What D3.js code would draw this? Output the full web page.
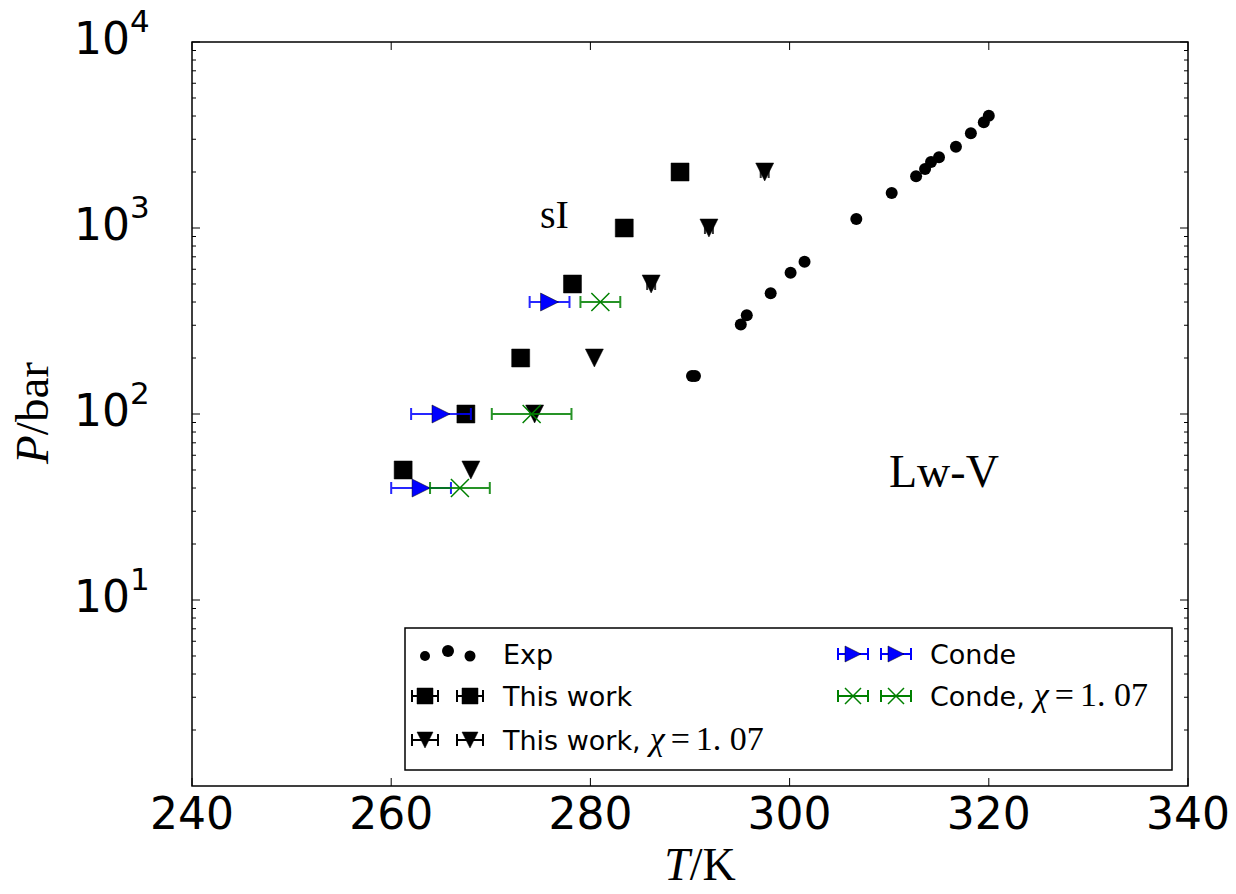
<!DOCTYPE html>
<html>
<head>
<meta charset="utf-8">
<script src="https://cdn.jsdelivr.net/npm/d3@7"></script>
<style>
  html, body { margin: 0; padding: 0; background: #fff; }
  svg { display: block; }
</style>
</head>
<body>
<svg id="chart" width="1236" height="894"></svg>
<script>
// ---------------- data ----------------
const xTicks = [240, 260, 280, 300, 320, 340];
const yTicks = [10, 100, 1000, 10000];
const yTickExp = ["1", "2", "3", "4"];

const expT = [290.2, 290.5, 295.1, 295.7, 298.1, 300.1, 301.5, 306.7, 310.25, 312.7, 313.6, 314.2, 315.0, 316.7, 318.2, 319.5, 320.0];
const expP = [160, 160, 303, 340, 446, 575, 659, 1118, 1542, 1897, 2075, 2264, 2400, 2735, 3228, 3700, 4015];

const workT = [261.2, 267.5, 273.0, 278.2, 283.4, 289.0];
const workP = [50, 100, 200, 500, 1000, 2000];
const workErr = [0.5, 0.5, 0.5, 0.5, 0.5, 0.5];

const workChiT = [268.0, 274.4, 280.4, 286.1, 291.9, 297.5];
const workChiP = [50, 100, 200, 500, 1000, 2000];
const workChiErr = [0, 0, 0, 0.4, 0.4, 0.4];

const condeT = [263.0, 265.0, 275.9];
const condeP = [40, 100, 400];
const condeErr = [3, 3, 2];

const condeChiT = [266.9, 274.1, 281.0];
const condeChiP = [40, 100, 400];
const condeChiErr = [3, 4, 2];

// ---------------- layout ----------------
const L = 192, R = 1188, T = 42, B = 786;
const svg = d3.select("#chart");
const x = d3.scaleLinear().domain([240, 340]).range([L, R]);
const y = d3.scaleLog().domain([1, 10000]).range([B, T]);

const BLUE = "#0000ff", GREEN = "#008000";
const MS = 18;

function markerPath(kind, s) {
  const h = s / 2;
  switch (kind) {
    case "square": return `M${-h},${-h}H${h}V${h}H${-h}Z`;
    case "tridown": return `M${-h},${-h}L${h},${-h}L0,${h}Z`;
    case "triright": return `M${-h},${-h}L${h},0L${-h},${h}Z`;
    case "x": return `M${-h},${-h}L${h},${h}M${-h},${h}L${h},${-h}`;
  }
}

svg.append("clipPath").attr("id", "clip").append("rect")
  .attr("x", L).attr("y", T).attr("width", R - L).attr("height", B - T);
const plot = svg.append("g").attr("clip-path", "url(#clip)");

// ---------------- series ----------------
plot.append("g").selectAll("circle").data(expT.map((t, i) => [t, expP[i]]))
  .join("circle")
  .attr("cx", d => x(d[0])).attr("cy", d => y(d[1])).attr("r", 6)
  .attr("fill", "#000");

function errSeries(Ts, Ps, Es, kind, color, errOpacity) {
  const g = plot.append("g");
  const data = Ts.map((t, i) => ({ t, p: Ps[i], e: Es[i] }));
  const capH = 6;
  data.forEach(d => {
    if (d.e > 0) {
      const x0 = x(d.t - d.e), x1 = x(d.t + d.e), yy = y(d.p);
      g.append("path")
        .attr("d", `M${x0},${yy}H${x1}M${x0},${yy - capH}V${yy + capH}M${x1},${yy - capH}V${yy + capH}`)
        .attr("stroke", color).attr("stroke-width", 2).attr("fill", "none")
        .attr("opacity", errOpacity);
    }
  });
  g.selectAll("path.m").data(data).join("path").attr("class", "m")
    .attr("transform", d => `translate(${x(d.t)},${y(d.p)})`)
    .attr("d", markerPath(kind, MS))
    .attr("fill", kind === "x" ? "none" : color)
    .attr("stroke", kind === "x" ? color : "#000")
    .attr("stroke-width", kind === "x" ? 1.5 : 0.5);
}

errSeries(workT, workP, workErr, "square", "#000", 0.8);
errSeries(workChiT, workChiP, workChiErr, "tridown", "#000", 0.8);
errSeries(condeT, condeP, condeErr, "triright", BLUE, 0.85);
errSeries(condeChiT, condeChiP, condeChiErr, "x", GREEN, 0.85);

// ---------------- axes ----------------
const ax = svg.append("g");
ax.append("rect").attr("x", L).attr("y", T).attr("width", R - L).attr("height", B - T)
  .attr("fill", "none").attr("stroke", "#000").attr("stroke-width", 1.5);

const MAJ = 8, MIN = 4;
xTicks.forEach(v => {
  const xx = x(v);
  ax.append("line").attr("x1", xx).attr("x2", xx).attr("y1", B).attr("y2", B - MAJ).attr("stroke", "#000");
  ax.append("line").attr("x1", xx).attr("x2", xx).attr("y1", T).attr("y2", T + MAJ).attr("stroke", "#000");
  ax.append("text").attr("x", xx).attr("y", 829).attr("text-anchor", "middle")
    .attr("font-family", "DejaVu Sans").attr("font-size", 44).text(v);
});

const yMinor = [];
for (let k = 0; k < 4; k++) for (let m = 2; m <= 9; m++) yMinor.push(m * Math.pow(10, k));
yMinor.forEach(v => {
  const yy = y(v);
  ax.append("line").attr("x1", L).attr("x2", L + MIN).attr("y1", yy).attr("y2", yy).attr("stroke", "#000");
  ax.append("line").attr("x1", R).attr("x2", R - MIN).attr("y1", yy).attr("y2", yy).attr("stroke", "#000");
});
yTicks.forEach((v, i) => {
  const yy = y(v);
  ax.append("line").attr("x1", L).attr("x2", L + MAJ).attr("y1", yy).attr("y2", yy).attr("stroke", "#000");
  ax.append("line").attr("x1", R).attr("x2", R - MAJ).attr("y1", yy).attr("y2", yy).attr("stroke", "#000");
  const t = ax.append("text").attr("x", 74).attr("y", yy + 12)
    .attr("font-family", "DejaVu Sans").attr("font-size", 44);
  t.append("tspan").text("10");
  t.append("tspan").attr("dy", -22).attr("font-size", 31).text(yTickExp[i]);
});

// axis labels
const xl = svg.append("text").attr("x", 700).attr("y", 880).attr("text-anchor", "middle")
  .attr("font-family", "Liberation Serif").attr("font-size", 46);
xl.append("tspan").attr("font-style", "italic").text("T");
xl.append("tspan").text("/K");

const yl = svg.append("text").attr("transform", "translate(48,413) rotate(-90)").attr("text-anchor", "middle")
  .attr("font-family", "Liberation Serif").attr("font-size", 47);
yl.append("tspan").attr("font-style", "italic").text("P");
yl.append("tspan").text("/bar");

// annotations
svg.append("text").attr("x", 540).attr("y", 228).attr("font-family", "Liberation Serif")
  .attr("font-size", 40).text("sI");
svg.append("text").attr("x", 889).attr("y", 487).attr("font-family", "Liberation Serif")
  .attr("font-size", 46).text("Lw-V");

// ---------------- legend ----------------
const lg = svg.append("g");
lg.append("rect").attr("x", 405).attr("y", 628).attr("width", 767).attr("height", 142)
  .attr("fill", "#fff").attr("stroke", "#000").attr("stroke-width", 1.5);

const rows = [654, 696, 740];
const legendFont = 27;

function legendText(xx, yy, label, chi) {
  const t = lg.append("text").attr("x", xx).attr("y", yy + 10)
    .attr("font-family", "DejaVu Sans").attr("font-size", legendFont);
  t.append("tspan").text(label);
  if (chi) {
    t.append("tspan").attr("font-family", "Liberation Serif").attr("font-style", "italic")
      .attr("font-size", 34).attr("dx", 9).text("χ");
    t.append("tspan").attr("font-family", "Liberation Serif").attr("font-size", 34)
      .attr("dx", 6).text("=");
    t.append("tspan").attr("font-family", "Liberation Serif").attr("font-size", 34)
      .attr("dx", 6).text("1. 07");
  }
}

[[425, 5], [448, 6], [470, 5.5]].forEach(([cx, r], i) => {
  lg.append("circle").attr("cx", cx).attr("cy", rows[0] + (i === 1 ? -3 : 2)).attr("r", r).attr("fill", "#000");
});
legendText(503, rows[0], "Exp", false);

function legendErr(cxs, yy, kind, color, half) {
  cxs.forEach(cx => {
    lg.append("path")
      .attr("d", `M${cx - half},${yy}H${cx + half}M${cx - half},${yy - 6}V${yy + 6}M${cx + half},${yy - 6}V${yy + 6}`)
      .attr("stroke", color).attr("stroke-width", 2).attr("fill", "none");
    lg.append("path").attr("transform", `translate(${cx},${yy})`)
      .attr("d", markerPath(kind, 16))
      .attr("fill", kind === "x" ? "none" : color)
      .attr("stroke", kind === "x" ? color : "#000")
      .attr("stroke-width", kind === "x" ? 1.5 : 0.5);
  });
}
legendErr([425, 470], rows[1], "square", "#000", 13);
legendText(503, rows[1], "This work", false);
legendErr([425, 470], rows[2], "tridown", "#000", 13);
legendText(503, rows[2], "This work,", true);

legendErr([853, 896], rows[0], "triright", BLUE, 15);
legendText(930, rows[0], "Conde", false);
legendErr([853, 896], rows[1], "x", GREEN, 15);
legendText(930, rows[1], "Conde,", true);
</script>
</body>
</html>
